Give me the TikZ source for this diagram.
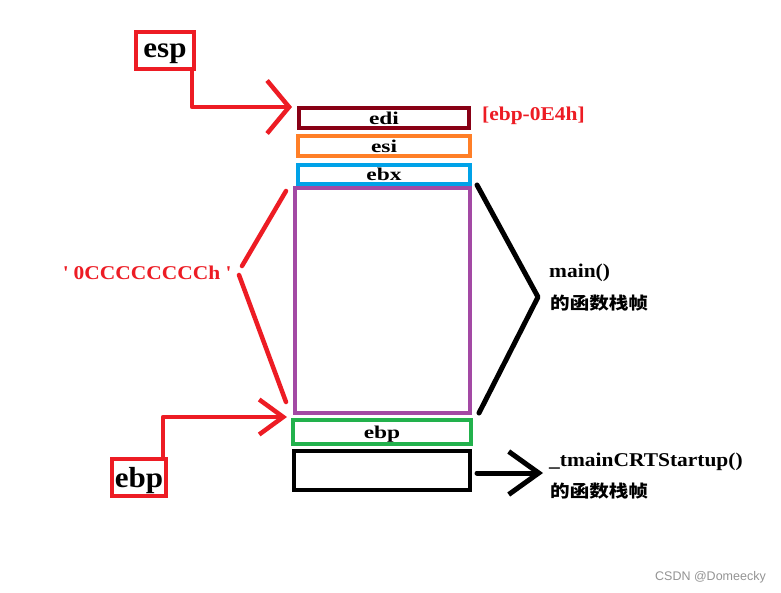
\documentclass[tikz,border=0pt]{standalone}
\usepackage{fontspec}
\setmainfont{Liberation Serif}
\newfontfamily\boxfont[FakeStretch=1.3]{Liberation Serif}
\newfontfamily\lblfont[FakeStretch=1.1]{Liberation Serif}
\newfontfamily\tagfont[FakeStretch=1.07]{Liberation Serif}
\newfontfamily\cjk[FakeStretch=1.15]{Noto Sans CJK SC}
\newfontfamily\wmfont{Liberation Sans}
\usetikzlibrary{arrows.meta}
\definecolor{pred}{HTML}{ED1C24}
\definecolor{cedi}{HTML}{880015}
\definecolor{cesi}{HTML}{FF7F27}
\definecolor{cebx}{HTML}{00A2E8}
\definecolor{cpur}{HTML}{A349A4}
\definecolor{cgrn}{HTML}{22B14C}
\begin{document}
\begin{tikzpicture}[x=1pt,y=-1pt,
  cell/.style={draw, line width=4pt, inner sep=0pt, text depth=0pt, font=\boxfont\fontsize{18}{20}\selectfont\bfseries},
  regtag/.style={draw=pred, line width=4pt, inner sep=0pt, text depth=0pt, font=\tagfont\fontsize{29}{31}\selectfont\bfseries},
  redline/.style={draw=pred, line width=4.5pt, line cap=round, line join=round},
  blkline/.style={draw=black, line width=5pt, line cap=round, line join=round},
  lbl/.style={anchor=west, inner sep=0pt, font=\lblfont\fontsize{19.5}{21}\selectfont\bfseries},
  cjklbl/.style={anchor=west, inner sep=0pt, font=\cjk\fontsize{17}{19}\selectfont\bfseries}
]
\useasboundingbox (0,0) rectangle (781,592);
\fill[white] (0,0) rectangle (781,592);

% stack cells
\node[cell, draw=cedi, minimum width=170pt, minimum height=20pt] (edi) at (384,118) {edi};
\node[cell, draw=cesi, minimum width=172pt, minimum height=20pt] (esi) at (384,146) {esi};
\node[cell, draw=cebx, minimum width=172pt, minimum height=19pt] (ebx) at (384,174.5) {ebx};
\node[cell, draw=cpur, minimum width=175pt, minimum height=225pt] (frame) at (382.5,300.5) {};
\node[cell, draw=cgrn, minimum width=178pt, minimum height=24pt] (oldebp) at (382,432) {ebp};
\node[cell, draw=black, minimum width=176pt, minimum height=39pt] (caller) at (382,470.5) {};

% register tags
\node[regtag, minimum width=58pt, minimum height=37pt] (esp) at (165,50.5) {esp};
\node[regtag, minimum width=54pt, minimum height=37pt] (ebpreg) at (139,477.5) {ebp};

% labels
\node[lbl, text=pred] (off) at (482,116) {[ebp-0E4h]};
\node[lbl, text=pred, anchor=center] (fill) at (147,273) {\textquotesingle\ 0CCCCCCCCh\ \textquotesingle};
\node[lbl] (mainlbl) at (549,273) {main()};
\node[cjklbl] (maincjk) at (550,303) {的函数栈帧};
\node[lbl] (crtlbl) at (549,462) {\_tmainCRTStartup()};
\node[cjklbl] (crtcjk) at (550,491) {的函数栈帧};
\node[anchor=east, inner sep=0pt, text=black!42, font=\wmfont\fontsize{12.5}{14}\selectfont] (wm) at (766,577) {CSDN @Domeecky};

% coordinates
\coordinate (espbend) at (192,107);
\coordinate (esptip) at (292,107);
\coordinate (ebpbend) at (163,417);
\coordinate (ebptip) at (287,417);
\coordinate (ccA) at (242,266);
\coordinate (ccB) at (239,275);
\coordinate (ccup) at (286,191);
\coordinate (ccdown) at (286,402);
\coordinate (brtop) at (477,185);
\coordinate (brtip) at (538,297);
\coordinate (brbot) at (479,413);
\coordinate (arrstart) at (477,473);
\coordinate (arrtip) at (543,473);

% connectors
\draw[redline, -{Straight Barb[length=22pt,width=53pt]}] (esp.south -| espbend) |- (esptip);
\draw[redline, -{Straight Barb[length=24pt,width=35pt]}] (ebpreg.north -| ebpbend) |- (ebptip);
\draw[redline] (ccA) -- (ccup);
\draw[redline] (ccB) -- (ccdown);
\draw[blkline] (brtop) -- (brtip) -- (brbot);
\draw[blkline, -{Straight Barb[length=30pt,width=43pt]}] (arrstart) -- (arrtip);
\end{tikzpicture}
\end{document}
